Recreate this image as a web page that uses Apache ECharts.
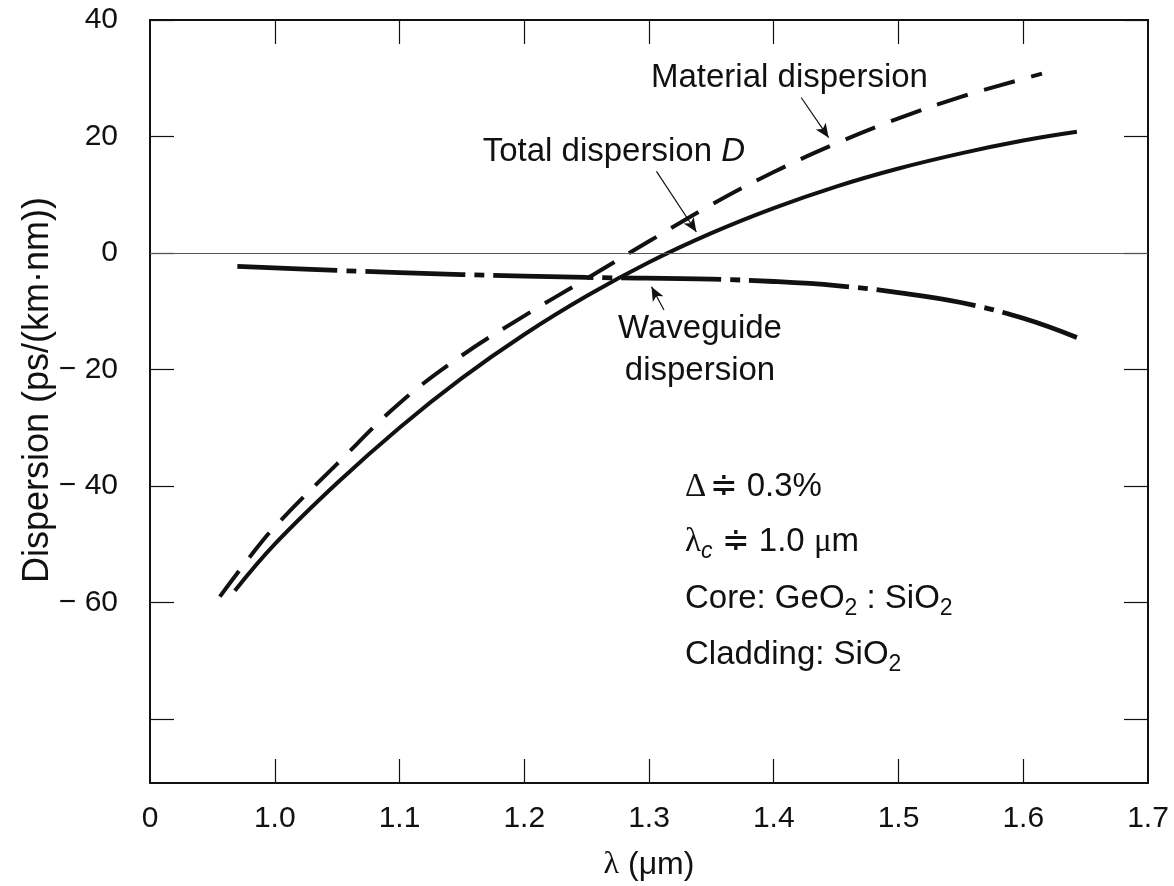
<!DOCTYPE html>
<html><head><meta charset="utf-8">
<script src="https://cdn.jsdelivr.net/npm/echarts@6/dist/echarts.min.js"></script>
<style>html,body{margin:0;padding:0;background:#fff}#c{width:1174px;height:886px}</style>
</head><body><div id="c"></div>
<script>
// ---- data ----
const totalLambda   = [0.968, 1.00, 1.05, 1.10, 1.15, 1.20, 1.25, 1.30, 1.35, 1.40, 1.45, 1.50, 1.55, 1.60, 1.643];
const totalD        = [-58.0, -50.0, -39.5, -30.0, -21.5, -14.0, -7.4, -1.6, 3.4, 7.7, 11.4, 14.5, 17.1, 19.3, 20.8];
const materialLambda= [0.956, 0.98, 1.00, 1.05, 1.10, 1.15, 1.20, 1.25, 1.30, 1.35, 1.40, 1.45, 1.50, 1.55, 1.60, 1.615];
const materialD     = [-59.0, -52.2, -47.0, -36.2, -25.8, -17.6, -10.8, -4.4, 2.0, 8.3, 13.9, 18.8, 23.1, 26.8, 29.9, 30.8];
const waveLambda    = [0.970, 1.05, 1.15, 1.25, 1.35, 1.40, 1.45, 1.50, 1.55, 1.60, 1.643];
const waveD         = [-2.3, -3.0, -3.7, -4.2, -4.5, -4.9, -5.6, -6.8, -8.5, -11.2, -14.5];
const xTickValues   = [1.0, 1.1, 1.2, 1.3, 1.4, 1.5, 1.6];
const xLabelValues  = [0.9, 1.0, 1.1, 1.2, 1.3, 1.4, 1.5, 1.6, 1.7];
const yTickValues   = [40, 20, 0, -20, -40, -60, -80];
const yLabelValues  = [40, 20, 0, -20, -40, -60];

const zip = (a, b) => a.map((v, i) => [v, b[i]]);
const FONT = '"Liberation Sans", Arial, Helvetica, sans-serif';
const SERIF = '"Liberation Serif", "DejaVu Serif", serif';
const INK = '#111';
const ANN = 33;

const chart = echarts.init(document.getElementById('c'), null, {renderer: 'canvas'});

const baseX = {
  type: 'value', min: 0.9, max: 1.7,
  axisLine: {show: true, onZero: false, lineStyle: {color: INK, width: 2}},
  axisTick: {show: true, inside: true, length: 24, customValues: xTickValues, lineStyle: {color: INK, width: 1.2}},
  splitLine: {show: false}
};
const baseY = {
  type: 'value', min: -91, max: 40,
  axisLine: {show: true, onZero: false, lineStyle: {color: INK, width: 2}},
  axisTick: {show: true, inside: true, length: 24, customValues: yTickValues, lineStyle: {color: INK, width: 1.2}},
  splitLine: {show: false}
};

const arrowLine = (a, b) => [{coord: a}, {coord: b}];

chart.setOption({
  animation: false,
  backgroundColor: '#fff',
  grid: {left: 150, right: 26, top: 20, bottom: 97, containLabel: false},
  xAxis: [
    Object.assign({}, baseX, {
      position: 'bottom',
      axisLabel: {show: true, customValues: xLabelValues, margin: 21, fontSize: 30, fontFamily: FONT, color: INK,
        formatter: v => (Math.abs(v - 0.9) < 1e-6 ? '0' : v.toFixed(1))},
      name: '{s|λ} (μm)', nameLocation: 'middle', nameGap: 66,
      nameTextStyle: {fontSize: 32, fontFamily: FONT, color: INK, rich: {s: {fontSize: 32, fontFamily: SERIF, color: INK}}}
    }),
    Object.assign({}, baseX, {position: 'top', axisLabel: {show: false}})
  ],
  yAxis: [
    Object.assign({}, baseY, {
      position: 'left',
      axisLabel: {show: true, customValues: yLabelValues, margin: 32, fontSize: 30, fontFamily: FONT, color: INK,
        formatter: v => (v < 0 ? '\u2212 ' + Math.abs(v) : String(v))}
    }),
    Object.assign({}, baseY, {position: 'right', axisLabel: {show: false}})
  ],
  series: [
    {
      name: 'Material dispersion', type: 'line', smooth: 0.4, symbol: 'none', data: zip(materialLambda, materialD),
      lineStyle: {color: INK, width: 4, type: [32, 17], cap: 'butt'},
      markLine: {silent: true, symbol: 'none', label: {show: false},
        lineStyle: {color: '#555', width: 1, type: 'solid'}, data: [{yAxis: 0}]}
    },
    {
      name: 'Total dispersion D', type: 'line', smooth: 0.4, symbol: 'none', data: zip(totalLambda, totalD),
      lineStyle: {color: INK, width: 4, type: 'solid'},
      markLine: {silent: true, symbol: ['none', 'arrow'], symbolSize: [9, 14], label: {show: false},
        lineStyle: {color: INK, width: 1.2, type: 'solid'},
        data: [
          arrowLine([1.422, 26.7], [1.444, 19.8]),
          arrowLine([1.306, 14.0], [1.338, 3.6]),
          arrowLine([1.312, -9.8], [1.302, -5.8])
        ]}
    },
    {
      name: 'Waveguide dispersion', type: 'line', smooth: 0.4, symbol: 'none', data: zip(waveLambda, waveD),
      lineStyle: {color: INK, width: 4.8, type: [100, 9, 10, 9], cap: 'butt'}
    }
  ],
  graphic: [
    {type: 'text', x: 38, y: 390, rotation: Math.PI / 2,
      style: {text: 'Dispersion (ps/(km\u00B7nm))', fontSize: 36, fontFamily: FONT, fill: INK, align: 'center', verticalAlign: 'middle'}},
    {type: 'text', x: 651, y: 78, style: {text: 'Material dispersion', fontSize: ANN, fontFamily: FONT, fill: INK, align: 'left', verticalAlign: 'middle'}},
    {type: 'text', x: 745, y: 152, style: {text: '{n|Total dispersion }{i|D}', align: 'right', verticalAlign: 'middle',
      rich: {n: {fontSize: ANN, fontFamily: FONT, fill: INK}, i: {fontSize: ANN, fontFamily: FONT, fontStyle: 'italic', fill: INK}}}},
    {type: 'text', x: 700, y: 329, style: {text: 'Waveguide', fontSize: ANN, fontFamily: FONT, fill: INK, align: 'center', verticalAlign: 'middle'}},
    {type: 'text', x: 700, y: 371, style: {text: 'dispersion', fontSize: ANN, fontFamily: FONT, fill: INK, align: 'center', verticalAlign: 'middle'}},
    {type: 'text', x: 685, y: 487, style: {text: '{s|\u0394} {n|\u2251 0.3%}', align: 'left', verticalAlign: 'middle',
      rich: {s: {fontSize: ANN, fontFamily: SERIF, fill: INK, lineHeight: 42}, n: {fontSize: ANN, fontFamily: FONT, fill: INK, lineHeight: 42}}}},
    {type: 'text', x: 685, y: 542, style: {text: '{s|\u03BB}{c|c}{n| \u2251 1.0 }{s|\u03BC}{n|m}', align: 'left', verticalAlign: 'middle',
      rich: {s: {fontSize: ANN, fontFamily: SERIF, fill: INK, lineHeight: 42}, n: {fontSize: ANN, fontFamily: FONT, fill: INK, lineHeight: 42},
             c: {fontSize: 23, fontFamily: FONT, fontStyle: 'italic', fill: INK, lineHeight: 42, verticalAlign: 'bottom'}}}},
    {type: 'text', x: 685, y: 599, style: {text: '{n|Core: GeO}{b|2}{n| : SiO}{b|2}', align: 'left', verticalAlign: 'middle',
      rich: {n: {fontSize: ANN, fontFamily: FONT, fill: INK, lineHeight: 42}, b: {fontSize: 23, fontFamily: FONT, fill: INK, lineHeight: 42, verticalAlign: 'bottom'}}}},
    {type: 'text', x: 685, y: 655, style: {text: '{n|Cladding: SiO}{b|2}', align: 'left', verticalAlign: 'middle',
      rich: {n: {fontSize: ANN, fontFamily: FONT, fill: INK, lineHeight: 42}, b: {fontSize: 23, fontFamily: FONT, fill: INK, lineHeight: 42, verticalAlign: 'bottom'}}}}
  ]
});
</script></body></html>
